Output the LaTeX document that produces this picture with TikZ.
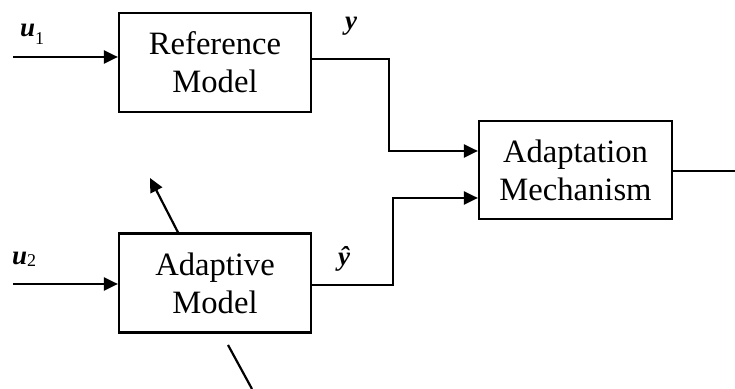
\documentclass[tikz,border=0pt]{standalone}
\usepackage{fontspec}
\setmainfont{Liberation Serif}
\usetikzlibrary{arrows.meta}
\begin{document}
\begin{tikzpicture}[x=0.5pt, y=-0.5pt, line width=1.1pt,
	sig/.style={-{Triangle[length=7pt,width=6.5pt]}},
	blk/.style={draw, fill=white, minimum width=96pt, minimum height=49.5pt, align=center, inner sep=0pt, font=\fontsize{16.3}{19}\selectfont},
	lbl/.style={anchor=base west, inner sep=0pt, font=\fontsize{13.5}{15}\selectfont\bfseries\itshape}]
	\useasboundingbox (0,0) rectangle (735,389);
	\begin{scope}
		\node[blk] (ref) at (215,62.5){Reference\\Model};
		\node[blk] (adm) at (215,283){Adaptive\\Model};
		\node[blk, minimum width=96.5pt, minimum height=49pt] (mech) at (575.5,170){Adaptation\\Mechanism};
	\end{scope}
	\coordinate (u1in) at (13,57);
	\coordinate (u2in) at (13,284);
	\coordinate (yc) at (389,59);
	\coordinate (yhc) at (393,285);
	\coordinate (out) at (735,171);
	\coordinate (ptip) at (150,178);
	\coordinate (pbot) at (252,389);
	\coordinate (pgap) at (228,345);
	\node[lbl] (u1) at (19,37){u\raisebox{-4pt}{\fontsize{9}{9}\selectfont\mdseries\upshape 1}};
	\node[lbl] (u2) at (11,265){u\raisebox{-1pt}{\fontsize{9}{9}\selectfont\mdseries\upshape 2}};
	\node[lbl] (y) at (344,30){y};
	\node[lbl] (yh) at (337,266){ŷ};
	\draw[sig] (u1in) -- (ref.west |- u1in);
	\draw[sig] (u2in) -- (adm.west |- u2in);
	\draw[sig] (ref.east |- yc) -- (yc) |- ([yshift=9.5pt]mech.west);
	\draw[sig] (adm.east |- yhc) -- (yhc) |- ([yshift=-14pt]mech.west);
	\draw (mech.east |- out) -- (out);
	\draw[sig] (adm.north -| 178,0) -- (ptip);
	\draw (pbot) -- (pgap);
\end{tikzpicture}
\end{document}
